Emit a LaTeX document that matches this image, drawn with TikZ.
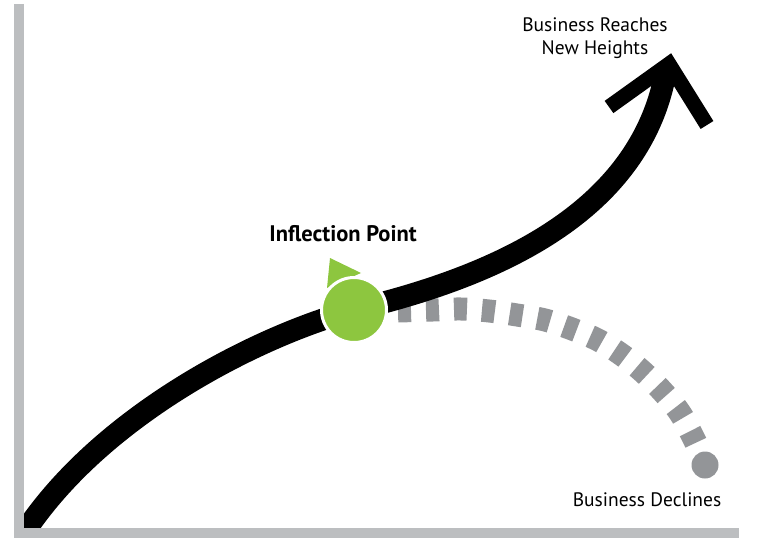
\documentclass[tikz,border=0pt]{standalone}
\usepackage{fontspec}
\setmainfont{PT Sans}
\usetikzlibrary{positioning}
\definecolor{axisgray}{RGB}{188,190,192}
\definecolor{dashgray}{RGB}{147,149,152}
\definecolor{leafgreen}{RGB}{141,198,63}

\begin{document}
\begin{tikzpicture}[x=1pt, y=-1pt,
      trend/.style={line width=22pt, black},
      decl/.style={line width=23pt, dashgray, dash pattern=on 13pt off 15pt},
      head/.style={line width=15pt, black, miter limit=10},
      axis/.style={line width=10pt, axisgray},
      lbl/.style={font=\fontsize{19.5}{23}\selectfont, align=center, inner sep=0pt}]
      \useasboundingbox (0,0) rectangle (759,553);
      \coordinate (o) at (22,536);
      \coordinate (tip) at (666,70);
      \coordinate (apex) at (669,64);
      \node[circle, fill=dashgray, minimum size=27pt, inner sep=0pt] (down) at (705,465) {};
      % declining branch, behind the rising one
      \draw[decl] plot[smooth, tension=0.6] coordinates {(398,311) (433,310) (461,309) (489,311)
        (517,315) (545,320) (572,329) (598,340) (622,355) (643,372) (663,392) (680,413) (693,437) (700,452)};
      \coordinate (ipc) at (354,310);
      \begin{scope}
        \clip (19,0) rectangle (759,533);
        \draw[trend] (o) .. controls (100,415) and (260,335) .. (ipc)
                         .. controls (480,280) and (640,220) .. (tip);
      \end{scope}
      \draw[head] (609,107) -- (apex) -- (707,125);
      \fill[leafgreen] (330,258) -- (361,273) -- (327,288) -- cycle;
      \node[circle, fill=leafgreen, draw=white, line width=3pt, minimum size=65pt, inner sep=0pt] (ip) at (ipc) {};
      \draw[axis] (19,4) -- (19,533) -- (739,533);
      \node[lbl] (uplbl) at (595,38) {Business Reaches\\New Heights};
      \node[lbl, font=\bfseries\fontsize{22.5}{24}\selectfont] (iplbl) at (343,234) {Inflection Point};
      \node[lbl] (dnlbl) at (647,500) {Business Declines};
    \end{tikzpicture}
\end{document}
